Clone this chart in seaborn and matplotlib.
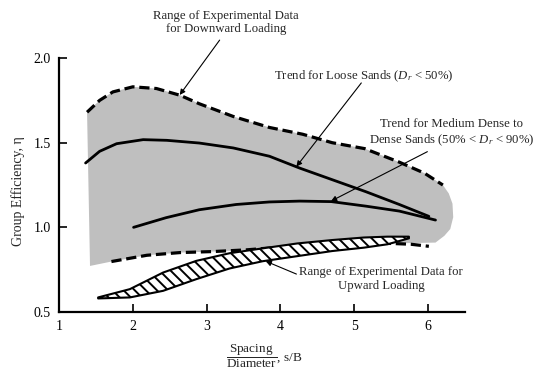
import matplotlib
matplotlib.use("Agg")
import matplotlib.pyplot as plt
import seaborn as sns

# ---- data ----
x_ticks = [1, 2, 3, 4, 5, 6]
y_ticks = [0.5, 1.0, 1.5, 2.0]
y_tick_labels = ["0.5", "1.0", "1.5", "2.0"]

# downward loading range: upper dashed boundary
down_upper_x = [1.38, 1.55, 1.73, 2.0, 2.32, 2.64, 2.9, 3.36, 3.85, 4.3, 4.7, 5.14, 5.61, 5.95, 6.2]
down_upper_y = [1.68, 1.75, 1.80, 1.83, 1.82, 1.78, 1.73, 1.655, 1.59, 1.55, 1.50, 1.465, 1.385, 1.32, 1.25]
# downward loading range: lower dashed boundary
down_lower_x = [1.71, 2.19, 2.64, 3.09, 3.54, 3.85, 4.5, 5.2, 5.5, 5.77, 6.01]
down_lower_y = [0.798, 0.835, 0.851, 0.857, 0.867, 0.878, 0.895, 0.905, 0.905, 0.90, 0.888]
# shaded region outline (right cap and left edge)
cap_x = [6.28, 6.33, 6.34, 6.30, 6.22, 6.10]
cap_y = [1.20, 1.14, 1.06, 0.99, 0.95, 0.91]
left_corner_x = [1.42]
left_corner_y = [0.772]

# upward loading range (hatched)
up_x = [1.53, 1.96, 2.41, 2.86, 3.31, 3.76, 4.23, 4.7, 5.13, 5.45, 5.74]
up_upper = [0.586, 0.635, 0.733, 0.802, 0.847, 0.876, 0.905, 0.925, 0.94, 0.945, 0.945]
up_lower = [0.58, 0.586, 0.625, 0.694, 0.757, 0.80, 0.83, 0.86, 0.88, 0.90, 0.935]

# trend lines
loose_x = [1.36, 1.55, 1.78, 2.14, 2.46, 2.9, 3.36, 3.85, 4.26, 4.71, 5.16, 5.61, 6.01]
loose_y = [1.38, 1.449, 1.494, 1.518, 1.514, 1.498, 1.469, 1.42, 1.35, 1.28, 1.21, 1.135, 1.065]
dense_x = [2.01, 2.45, 2.9, 3.4, 3.85, 4.26, 4.69, 5.16, 5.61, 6.1]
dense_y = [1.0, 1.057, 1.104, 1.135, 1.15, 1.155, 1.152, 1.125, 1.096, 1.043]

# ---- style ----
sns.set_theme(style="ticks")
plt.rcParams["font.family"] = ["Liberation Serif", "DejaVu Serif"]
plt.rcParams["mathtext.fontset"] = "custom"
plt.rcParams["mathtext.rm"] = "Liberation Serif"
plt.rcParams["mathtext.it"] = "Liberation Serif:italic"
plt.rcParams["hatch.linewidth"] = 1.4

fig = plt.figure(figsize=(5.35, 3.74), dpi=100)
ax = fig.add_axes([0.1103, 0.1658, 0.7589, 0.679])

# shaded downward-loading region
gray_x = down_upper_x + cap_x + down_lower_x[::-1][2:] + left_corner_x
gray_y = down_upper_y + cap_y + down_lower_y[::-1][2:] + left_corner_y
ax.fill(gray_x, gray_y, facecolor="#bfbfbf", edgecolor="none", zorder=1)

sns.lineplot(x=down_upper_x, y=down_upper_y, ax=ax, color="black", lw=2.3,
             linestyle=(0, (3.2, 1.5)), sort=False, zorder=3)
sns.lineplot(x=down_lower_x, y=down_lower_y, ax=ax, color="black", lw=2.3,
             linestyle=(0, (3.2, 1.5)), sort=False, zorder=3)

# hatched upward region
ax.fill_between(up_x, up_lower, up_upper, facecolor="white", edgecolor="black",
                hatch="\\\\\\", linewidth=1.5, zorder=4)

sns.lineplot(x=loose_x, y=loose_y, ax=ax, color="black", lw=2.0, sort=False, zorder=5)
sns.lineplot(x=dense_x, y=dense_y, ax=ax, color="black", lw=2.0, sort=False, zorder=5)

arrow = dict(arrowstyle="-|>", lw=0.8, color="black", mutation_scale=8,
             shrinkA=0, shrinkB=0)
fs = 9.2
ls = 1.22
ax.annotate("", xy=(2.635, 1.782), xytext=(3.176, 2.106), arrowprops=arrow,
            annotation_clip=False, zorder=6)
ax.text(3.26, 2.21, "Range of Experimental Data\nfor Downward Loading",
        ha="center", va="center", fontsize=fs, linespacing=ls, clip_on=False)

ax.annotate("", xy=(4.216, 1.359), xytext=(5.095, 1.853), arrowprops=arrow, zorder=6)
ax.text(5.13, 1.895, r"Trend for Loose Sands ($D_r$ < 50%)",
        ha="center", va="center", fontsize=fs, clip_on=False)

ax.annotate("", xy=(4.685, 1.155), xytext=(5.99, 1.447), arrowprops=arrow, zorder=6)
ax.text(6.32, 1.555, "Trend for Medium Dense to\n" + r"Dense Sands (50% < $D_r$ < 90%)",
        ha="center", va="center", fontsize=fs, linespacing=ls, clip_on=False)

ax.annotate("", xy=(3.80, 0.80), xytext=(4.216, 0.724), arrowprops=arrow, zorder=6)
ax.text(5.365, 0.694, "Range of Experimental Data for\nUpward Loading",
        ha="center", va="center", fontsize=fs, linespacing=ls, clip_on=False)

# axes
ax.set_xlim(1, 6.5)
ax.set_ylim(0.5, 2.0)
ax.set_xticks(x_ticks)
ax.set_yticks(y_ticks)
ax.set_yticklabels(y_tick_labels)
ax.tick_params(direction="in", length=6, width=1.2, labelsize=10, colors="black",
               pad=6)
for side in ["top", "right"]:
    ax.spines[side].set_visible(False)
for side in ["left", "bottom"]:
    ax.spines[side].set_linewidth(1.6)
    ax.spines[side].set_color("black")
ax.set_facecolor("white")

fig.text(0.033, 0.489, "Group Efficiency, η", rotation=90, ha="center",
         va="center", fontsize=10)
fig.text(0.495, 0.048, r"$\dfrac{\mathrm{Spacing}}{\mathrm{Diameter}}$, s/B",
         ha="center", va="center", fontsize=9.5)

fig.savefig("out.png", dpi=100, facecolor="white")
